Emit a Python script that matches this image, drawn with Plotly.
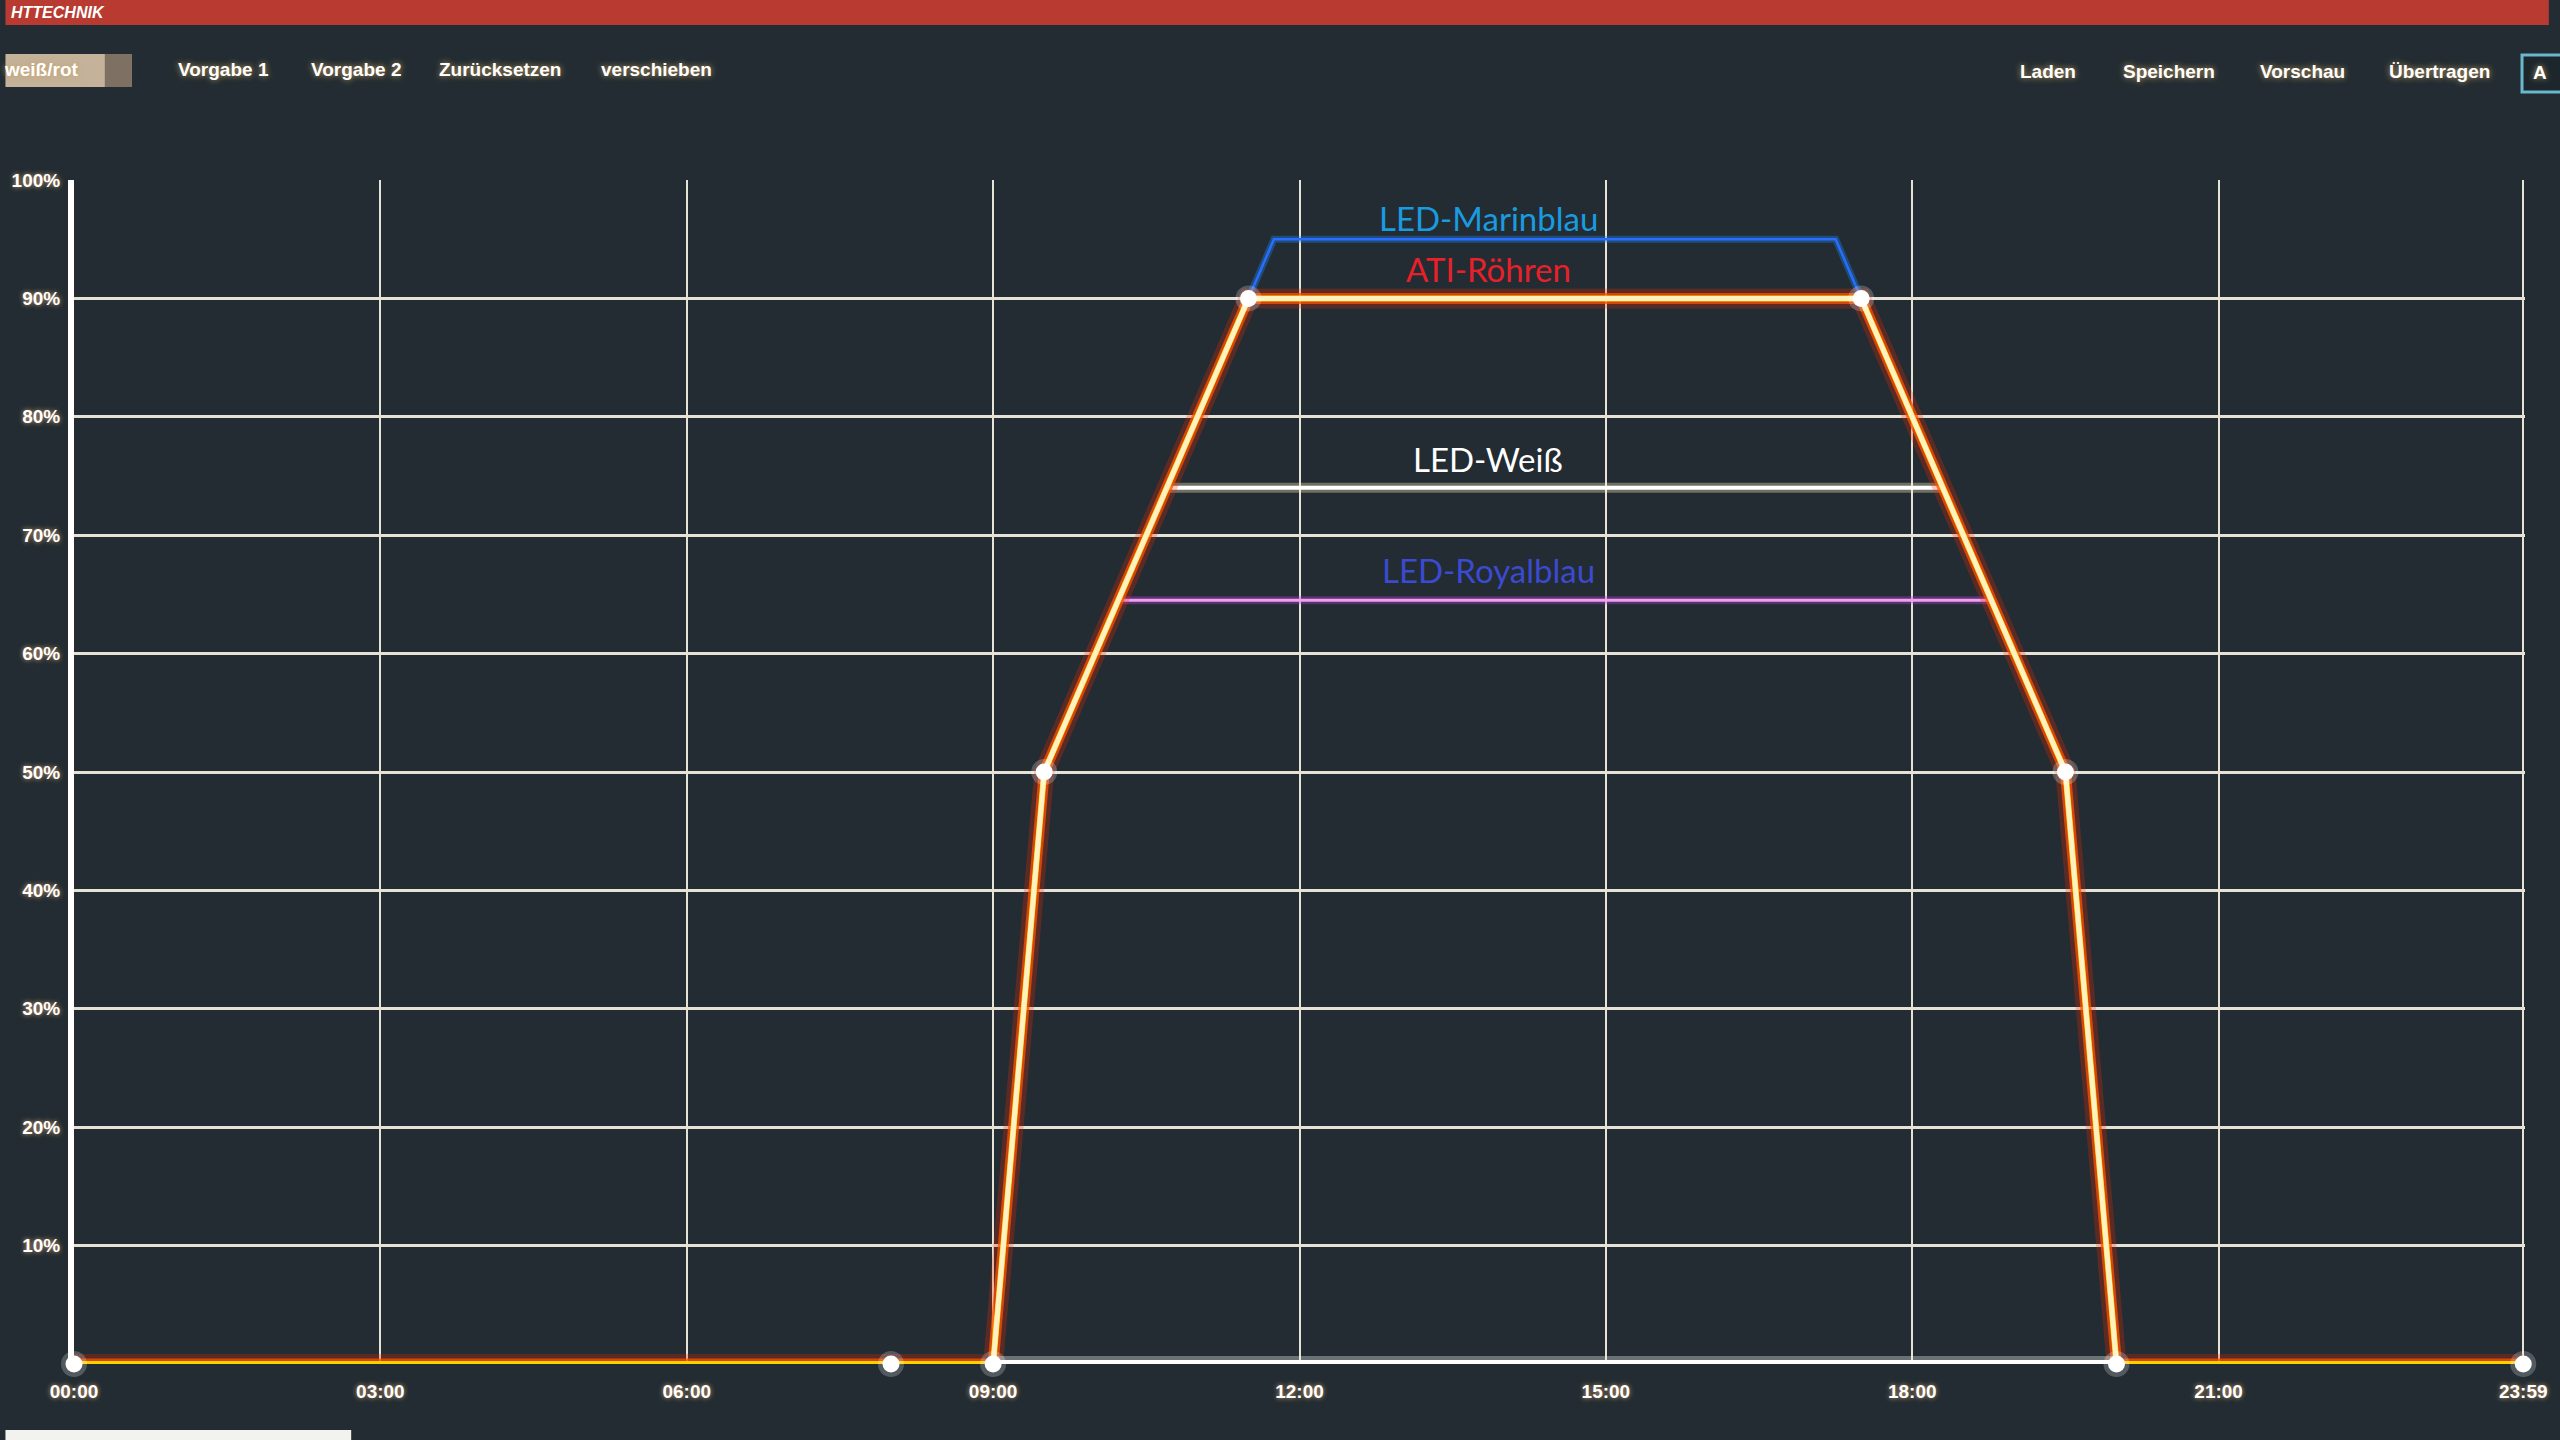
import plotly.graph_objects as go

# ATI-Röhren curve (hours, percent)
ati_x = [0, 8, 9, 9.5, 11.5, 17.5, 19.5, 20, 23.983]
ati_y = [0, 0, 0, 50, 90, 90, 50, 0, 0]

# other channels
weiss_x = [10.7, 18.3]
weiss_y = [74, 74]
royal_x = [10.25, 18.75]
royal_y = [64.5, 64.5]
marin_x = [11.5, 11.75, 17.25, 17.5]
marin_y = [90, 95, 95, 90]

# selected segment on the base line
sel_x = [9, 20]
sel_y = [0, 0]

label_names = ['LED-Marinblau', 'ATI-Röhren', 'LED-Weiß', 'LED-Royalblau']
label_y = [96.8, 92.5, 76.4, 67.1]
label_colors = ['#1a9be0', '#e8202a', '#ffffff', '#3c4ad0']

x_ticks = [0, 3, 6, 9, 12, 15, 18, 21, 23.983]
x_labels = ['00:00', '03:00', '06:00', '09:00', '12:00', '15:00', '18:00', '21:00', '23:59']
y_ticks = [10, 20, 30, 40, 50, 60, 70, 80, 90, 100]
y_labels = ['10%', '20%', '30%', '40%', '50%', '60%', '70%', '80%', '90%', '100%']

left_buttons = ['Vorgabe 1', 'Vorgabe 2', 'Zurücksetzen', 'verschieben']
right_buttons = ['Laden', 'Speichern', 'Vorschau', 'Übertragen']

W, H = 2560, 1440
L, R, T, B = 69, 24, 180, 76


def px(x):
    return (x - L) / (W - L - R)


def py(y):
    return (H - B - y) / (H - T - B)


fig = go.Figure()

# glow + lines for the other channels
for xs, ys, glow, core, wg, wc in [(royal_x, royal_y, '#c040e0', '#f0a0f0', 8, 3),
                                   (weiss_x, weiss_y, '#fff0c0', '#ffffff', 10, 4),
                                   (marin_x, marin_y, '#1a8cff', '#2a6cff', 7, 2.5)]:
    fig.add_trace(go.Scatter(x=xs, y=ys, mode='lines', hoverinfo='skip',
                             line=dict(color=glow, width=wg), opacity=0.35,
                             cliponaxis=False))
    fig.add_trace(go.Scatter(x=xs, y=ys, mode='lines', hoverinfo='skip',
                             line=dict(color=core, width=wc), cliponaxis=False))

# ATI glow
fig.add_trace(go.Scatter(x=ati_x, y=ati_y, mode='lines', hoverinfo='skip',
                         line=dict(color='#ff2a00', width=20), opacity=0.25,
                         cliponaxis=False))
fig.add_trace(go.Scatter(x=ati_x, y=ati_y, mode='lines', hoverinfo='skip',
                         line=dict(color='#ff5000', width=11), opacity=0.75,
                         cliponaxis=False))
# ATI core: yellow on the flat parts, pale on the peak
fig.add_trace(go.Scatter(x=ati_x, y=ati_y, mode='lines', hoverinfo='skip',
                         line=dict(color='#ffd000', width=6), cliponaxis=False))
fig.add_trace(go.Scatter(x=ati_x[2:8], y=ati_y[2:8], mode='lines', hoverinfo='skip',
                         line=dict(color='#fff2c0', width=5), cliponaxis=False))
fig.add_trace(go.Scatter(x=sel_x, y=sel_y, mode='lines', hoverinfo='skip',
                         line=dict(color='#f4f4ee', width=16), opacity=0.35,
                         cliponaxis=False))
fig.add_trace(go.Scatter(x=sel_x, y=sel_y, mode='lines', hoverinfo='skip',
                         line=dict(color='#ffffff', width=8), cliponaxis=False))
# points
fig.add_trace(go.Scatter(x=ati_x, y=ati_y, mode='markers', hoverinfo='skip',
                         marker=dict(size=26, color='rgba(255,255,255,0.22)'),
                         cliponaxis=False))
fig.add_trace(go.Scatter(x=ati_x, y=ati_y, mode='markers', name='ATI-Röhren',
                         marker=dict(size=17, color='#ffffff'), cliponaxis=False))

annotations = []
for name, y, c in zip(label_names, label_y, label_colors):
    annotations.append(dict(x=13.85, y=y, xref='x', yref='y', text=name,
                            showarrow=False, xanchor='center', yanchor='middle',
                            font=dict(family='Lato', size=33, color=c)))

btn_font = dict(family='Liberation Sans', size=19, color='#ffffff',
                weight='bold', shadow='0px 0px 6px #c8a060')
for name, x in zip(left_buttons, [219, 353, 498, 655]):
    annotations.append(dict(x=px(x), y=py(70), xref='paper', yref='paper',
                            xanchor='center', yanchor='middle',
                            text=name, showarrow=False, font=btn_font))
for name, x in zip(right_buttons, [2056, 2178, 2312, 2450]):
    annotations.append(dict(x=px(x), y=py(72), xref='paper', yref='paper',
                            xanchor='center', yanchor='middle',
                            text=name, showarrow=False, font=btn_font))
annotations.append(dict(x=px(36), y=py(70), xref='paper', yref='paper',
                        xanchor='center', yanchor='middle',
                        text='weiß/rot', showarrow=False, font=btn_font))
annotations.append(dict(x=px(2542), y=py(73), xref='paper', yref='paper',
                        xanchor='left', yanchor='middle', text='A',
                        showarrow=False, font=btn_font))
annotations.append(dict(x=px(4), y=py(13), xref='paper', yref='paper',
                        xanchor='left', yanchor='middle',
                        text='<i>HTTECHNIK</i>', showarrow=False,
                        font=dict(family='Liberation Sans', size=16,
                                  color='#ffffff', weight='bold')))

shapes = [
    # red header bar
    dict(type='rect', xref='paper', yref='paper', x0=px(0), x1=px(W),
         y0=py(0), y1=py(25), fillcolor='#b83a30', line=dict(width=0),
         layer='below'),
    # weiß/rot dropdown button
    dict(type='rect', xref='paper', yref='paper', x0=px(0), x1=px(127),
         y0=py(54), y1=py(87), fillcolor='#c4b29a', line=dict(width=0),
         layer='below'),
    dict(type='rect', xref='paper', yref='paper', x0=px(100), x1=px(127),
         y0=py(54), y1=py(87), fillcolor='#7e7062', line=dict(width=0),
         layer='below'),
    # right boxed button
    dict(type='rect', xref='paper', yref='paper', x0=px(2533), x1=px(2575),
         y0=py(55), y1=py(92), fillcolor='#1c262c',
         line=dict(color='#6ab8cc', width=3), layer='below'),
    # white strip bottom left
    dict(type='rect', xref='paper', yref='paper', x0=px(0), x1=px(348),
         y0=py(1430), y1=py(1440), fillcolor='#f2f2ee', line=dict(width=0)),
]

tick_font = dict(family='Liberation Sans', size=19, color='#ffffff',
                 weight='bold', shadow='0px 0px 5px #d0a070')

fig.update_layout(
    width=W, height=H,
    margin=dict(l=L, r=R, t=T, b=B),
    paper_bgcolor='#222c32',
    plot_bgcolor='#222c32',
    showlegend=False,
    annotations=annotations,
    shapes=shapes,
    xaxis=dict(range=[0, 24.0], tickvals=x_ticks, ticktext=x_labels,
               showgrid=True, gridcolor='#e6e2d6', gridwidth=2,
               zeroline=False, showline=False, ticks='',
               tickfont=tick_font, ticklabelstandoff=14, fixedrange=True),
    yaxis=dict(range=[0, 100], tickvals=y_ticks, ticktext=y_labels,
               showgrid=True, gridcolor='#e6e2d6', gridwidth=3,
               zeroline=False, showline=True, linecolor='#ffffff',
               linewidth=6, ticks='', tickfont=tick_font,
               ticklabelstandoff=4, fixedrange=True),
)

fig.write_html("out.html", config={'displayModeBar': False},
               post_script="document.body.style.margin='0';"
                           "document.body.style.overflow='hidden';")
